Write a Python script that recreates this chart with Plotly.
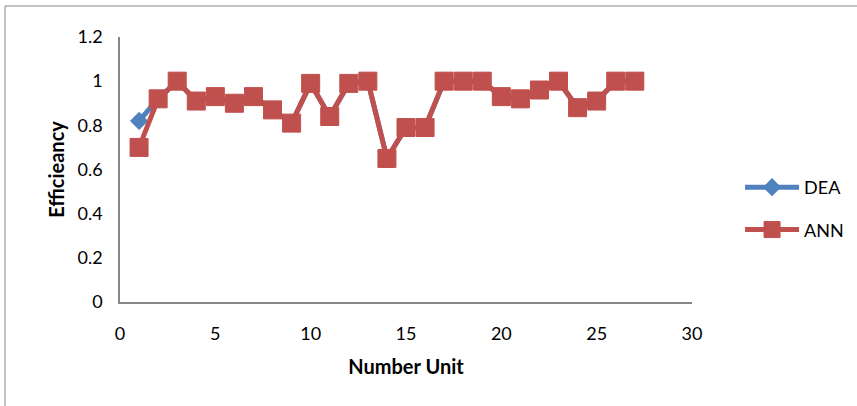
import plotly.graph_objects as go

# Efficiency scores per decision-making unit
units = list(range(1, 28))
dea = [0.82, 0.92, 1.00, 0.91, 0.93, 0.90, 0.93, 0.87, 0.81, 0.99,
       0.84, 0.99, 1.00, 0.65, 0.79, 0.79, 1.00, 1.00, 1.00, 0.93,
       0.92, 0.96, 1.00, 0.88, 0.91, 1.00, 1.00]
ann = [0.70, 0.92, 1.00, 0.91, 0.93, 0.90, 0.93, 0.87, 0.81, 0.99,
       0.84, 0.99, 1.00, 0.65, 0.79, 0.79, 1.00, 1.00, 1.00, 0.93,
       0.92, 0.96, 1.00, 0.88, 0.91, 1.00, 1.00]

BLUE = "#4F81BD"
RED = "#C0504D"
AXIS = "#868686"
FONT = "Lato, 'Open Sans', sans-serif"

fig = go.Figure()
fig.add_trace(go.Scatter(
    x=units, y=dea, name="DEA", mode="lines+markers", legendgroup="dea",
    line=dict(color=BLUE, width=5),
    marker=dict(symbol="diamond", size=14, color=BLUE),
))
fig.add_trace(go.Scatter(
    x=units, y=ann, name="ANN", mode="lines+markers", legendgroup="ann",
    line=dict(color=RED, width=5),
    marker=dict(symbol="square", size=18, color=RED,
                line=dict(color=RED, width=1)),
))

# outer chart frame (extends past the right and bottom edges)
fig.add_shape(type="rect", xref="paper", yref="paper",
              x0=-0.201, x1=1.4, y0=-0.5, y1=1.117,
              line=dict(color=AXIS, width=1), fillcolor="rgba(0,0,0,0)",
              layer="below")

fig.update_layout(
    width=857, height=406,
    margin=dict(l=120, r=165, t=37, b=104, autoexpand=False),
    paper_bgcolor="white", plot_bgcolor="white",
    font=dict(family=FONT, size=18, color="black"),
    showlegend=True,
    legend=dict(
        x=1.084, xanchor="left", y=0.353, yanchor="middle",
        traceorder="grouped", tracegroupgap=16,
        font=dict(size=18), itemwidth=54,
        bgcolor="rgba(0,0,0,0)",
    ),
    xaxis=dict(
        range=[0, 30], dtick=5, tick0=0, showgrid=False, zeroline=False,
        showline=True, linecolor=AXIS, linewidth=1.5, ticks="",
        ticklabelstandoff=15,
        title=dict(text="<b>Number Unit</b>", standoff=17, font=dict(size=20)),
    ),
    yaxis=dict(
        range=[0, 1.2], dtick=0.2, tick0=0, showgrid=False, zeroline=False,
        showline=True, linecolor=AXIS, linewidth=1.5, ticks="",
        ticklabelstandoff=12,
        title=dict(text="<b>Efficieancy</b>", standoff=8, font=dict(size=20)),
    ),
)

fig.write_html("out.html")
